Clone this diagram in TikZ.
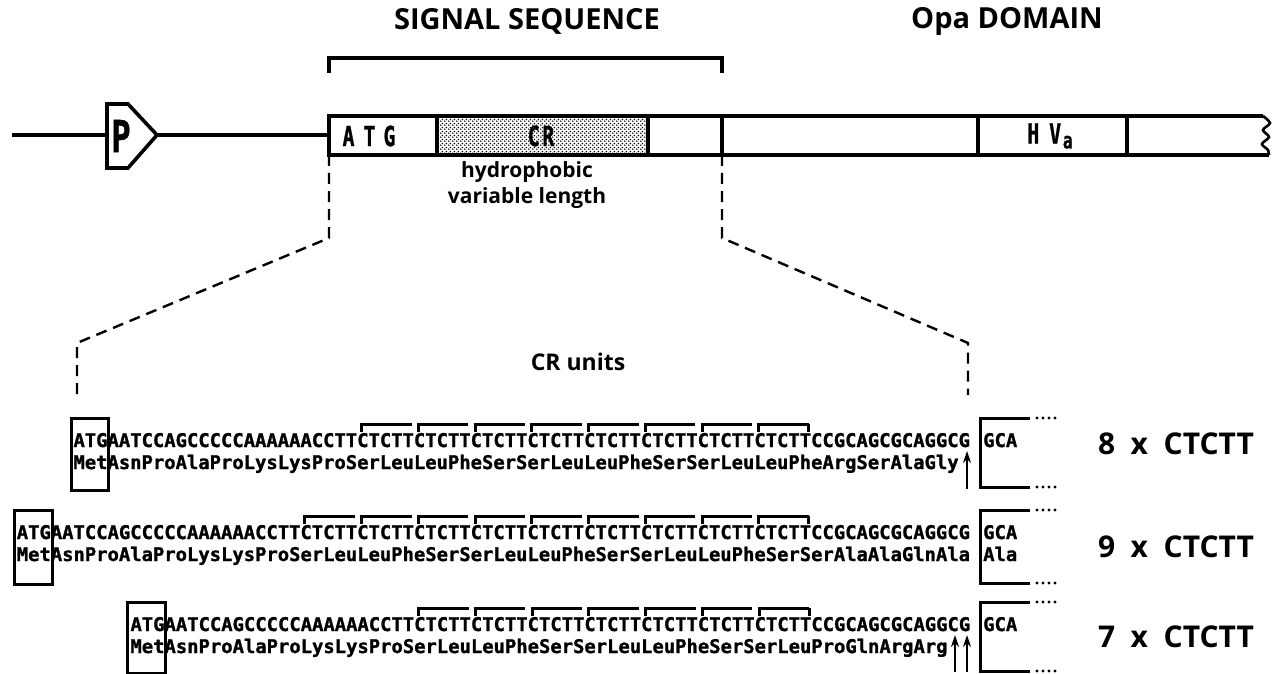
\documentclass[tikz,border=0pt]{standalone}
\usepackage{fontspec}
\setsansfont{Open Sans}
\newfontfamily\seqfont{DejaVu Sans Mono}[BoldFeatures={FakeBold=1.2}]
\usetikzlibrary{patterns,arrows.meta}
\newcommand{\chw}{11.35}
% checkerboard of dots for the CR region
\pgfdeclarepatternformonly{halftone}{\pgfpointorigin}{\pgfpoint{4bp}{4bp}}{\pgfpoint{4bp}{4bp}}{%
  \pgfpathcircle{\pgfpoint{1bp}{1bp}}{1.05bp}%
  \pgfpathcircle{\pgfpoint{3bp}{3bp}}{1.05bp}%
  \pgfusepath{fill}}

\begin{document}
\begin{tikzpicture}[x=1bp, y=-1bp,
    bar/.style={line width=3.6bp},
    unitbracket/.style={line width=3bp},
    zoomline/.style={line width=2.4bp, dash pattern=on 11bp off 7bp},
    heading/.style={font=\sffamily\bfseries\fontsize{29bp}{32bp}\selectfont, inner sep=0},
    note/.style={font=\sffamily\bfseries\fontsize{21bp}{26bp}\selectfont, inner sep=0},
    seq/.style={font=\seqfont\bfseries\fontsize{18.85bp}{22bp}\selectfont, inner sep=0},
    barlabel/.style={font=\seqfont\bfseries\fontsize{22bp}{26bp}\selectfont, inner sep=0},
    count/.style={font=\sffamily\bfseries\fontsize{30bp}{32bp}\selectfont, inner sep=0},
    cleave/.style={line width=2.6bp, -{Stealth[length=12bp,width=8bp]}}]
  \fill[white] (0,0) rectangle (1275,674);
  \useasboundingbox (0,0) rectangle (1275,674);
  % Headings
  \node[heading] (sighead) at (527,21) {SIGNAL SEQUENCE};
  \node[heading] (opahead) at (1007,21) {Opa DOMAIN};
  \draw[bar] (329,73) -- (329,58) -- (722,58) -- (722,73);
  % Promoter and gene
  \draw[bar] (12,135) -- (107,135);
  \draw[bar] (107,104) -- (128,104) -- (157,135) -- (128,168) -- (107,168) -- cycle;
  \node[font=\seqfont\bfseries\fontsize{40bp}{40bp}\selectfont, inner sep=0] (prom) at (121,136) {\scalebox{0.8}[1.1]{P}};
  \draw[bar] (157,135) -- (329,135);
  \fill[pattern=halftone] (437,116) rectangle (648,155);
  \draw[bar] (1263,116) -- (329,116) -- (329,155) -- (1269,155);
  \draw[line width=2.6bp] plot[smooth] coordinates {(1263,116) (1270,123) (1263,130) (1269,137) (1262,144) (1268,150) (1269,155)};
  \foreach \x in {437,648,722,978,1127}
    \draw[bar] (\x,116) -- (\x,155);
  \node[barlabel] (atg) at (369,136) {\scalebox{0.9}[1.25]{A\hspace{10bp}T\hspace{9bp}G}};
  \node[barlabel] (cr) at (541,136) {\scalebox{0.9}[1.25]{C\hspace{3bp}R}};
  \node[barlabel] (hva) at (1050,136) {\scalebox{0.9}[1.25]{H\hspace{11bp}V\hspace{2bp}\raisebox{-4bp}{\fontsize{18bp}{18bp}\selectfont a}}};
  \node[note] (hydro) at (527,172) {hydrophobic};
  \node[note] (varlen) at (527,198) {variable length};
  % Zoom into the signal sequence
  \coordinate (sigL) at (329,155);
  \coordinate (sigR) at (722,155);
  \coordinate (seqL) at (77,395);
  \coordinate (seqR) at (968,395);
  \draw[zoomline] (sigL) -- (329,238) -- (77,343) -- (seqL);
  \draw[zoomline] (sigR) -- (722,238) -- (968,343) -- (seqR);
  \node[note, font=\sffamily\bfseries\fontsize{23bp}{26bp}\selectfont] (crunits) at (578,362) {CR units};
  % 8 x CTCTT
  \node[seq, anchor=base west] (dnaA) at (73.3,447) {ATGAATCCAGCCCCCAAAAAACCTTCTCTTCTCTTCTCTTCTCTTCTCTTCTCTTCTCTTCTCTTCCGCAGCGCAGGCG};
  \node[seq, anchor=base west] (protA) at (73.3,469) {MetAsnProAlaProLysLysProSerLeuLeuPheSerSerLeuLeuPheSerSerLeuLeuPheArgSerAlaGly};
  \draw[unitbracket] (71,418) rectangle (108,490);
  \foreach \k in {0,...,7}
    \draw[unitbracket] ({73.3+(25.4+5*\k)*\chw},432) |- ({73.3+(29.8+5*\k)*\chw},424);
  \draw[unitbracket] ({73.3+64.8*\chw},424) -- ++(0,8);
  \draw[cleave] (967,489) -- (967,451);
  \draw[unitbracket] (1030,418) -- (980,418) -- (980,487) -- (1030,487);
  \foreach \d in {0,...,3} {
    \fill (1037+6*\d,418) circle (1.6);
    \fill (1037+6*\d,487) circle (1.6);
  }
  \node[seq, anchor=base west] (gcaA) at (983,447) {GCA};
  \node[count] (countA) at (1176,444) {8\ \ x\ \ CTCTT};
  % 9 x CTCTT
  \node[seq, anchor=base west] (dnaB) at (16.6,539) {ATGAATCCAGCCCCCAAAAAACCTTCTCTTCTCTTCTCTTCTCTTCTCTTCTCTTCTCTTCTCTTCTCTTCCGCAGCGCAGGCG};
  \node[seq, anchor=base west] (protB) at (16.6,561) {MetAsnProAlaProLysLysProSerLeuLeuPheSerSerLeuLeuPheSerSerLeuLeuPheSerSerAlaAlaGlnAla};
  \draw[unitbracket] (14,510) rectangle (52,584);
  \foreach \k in {0,...,8}
    \draw[unitbracket] ({16.6+(25.4+5*\k)*\chw},524) |- ({16.6+(29.8+5*\k)*\chw},516);
  \draw[unitbracket] ({16.6+69.8*\chw},516) -- ++(0,8);
  \draw[unitbracket] (1030,510) -- (980,510) -- (980,583) -- (1030,583);
  \foreach \d in {0,...,3} {
    \fill (1037+6*\d,510) circle (1.6);
    \fill (1037+6*\d,583) circle (1.6);
  }
  \node[seq, anchor=base west] (gcaB) at (983,539) {GCA};
  \node[seq, anchor=base west] (alaB) at (983,561) {Ala};
  \node[count] (countB) at (1176,547) {9\ \ x\ \ CTCTT};
  % 7 x CTCTT
  \node[seq, anchor=base west] (dnaC) at (130.3,631) {ATGAATCCAGCCCCCAAAAAACCTTCTCTTCTCTTCTCTTCTCTTCTCTTCTCTTCTCTTCCGCAGCGCAGGCG};
  \node[seq, anchor=base west] (protC) at (130.3,653) {MetAsnProAlaProLysLysProSerLeuLeuPheSerSerLeuLeuPheSerSerLeuProGlnArgArg};
  \draw[unitbracket] (127,602) rectangle (165,673);
  \foreach \k in {0,...,6}
    \draw[unitbracket] ({130.3+(25.4+5*\k)*\chw},616) |- ({130.3+(29.8+5*\k)*\chw},608);
  \draw[unitbracket] ({130.3+59.8*\chw},608) -- ++(0,8);
  \draw[cleave] (955,672) -- (955,635);
  \draw[cleave] (967,672) -- (967,635);
  \draw[unitbracket] (1030,602) -- (980,602) -- (980,671) -- (1030,671);
  \foreach \d in {0,...,3} {
    \fill (1037+6*\d,602) circle (1.6);
    \fill (1037+6*\d,671) circle (1.6);
  }
  \node[seq, anchor=base west] (gcaC) at (983,631) {GCA};
  \node[count] (countC) at (1176,637) {7\ \ x\ \ CTCTT};
\end{tikzpicture}
\end{document}
